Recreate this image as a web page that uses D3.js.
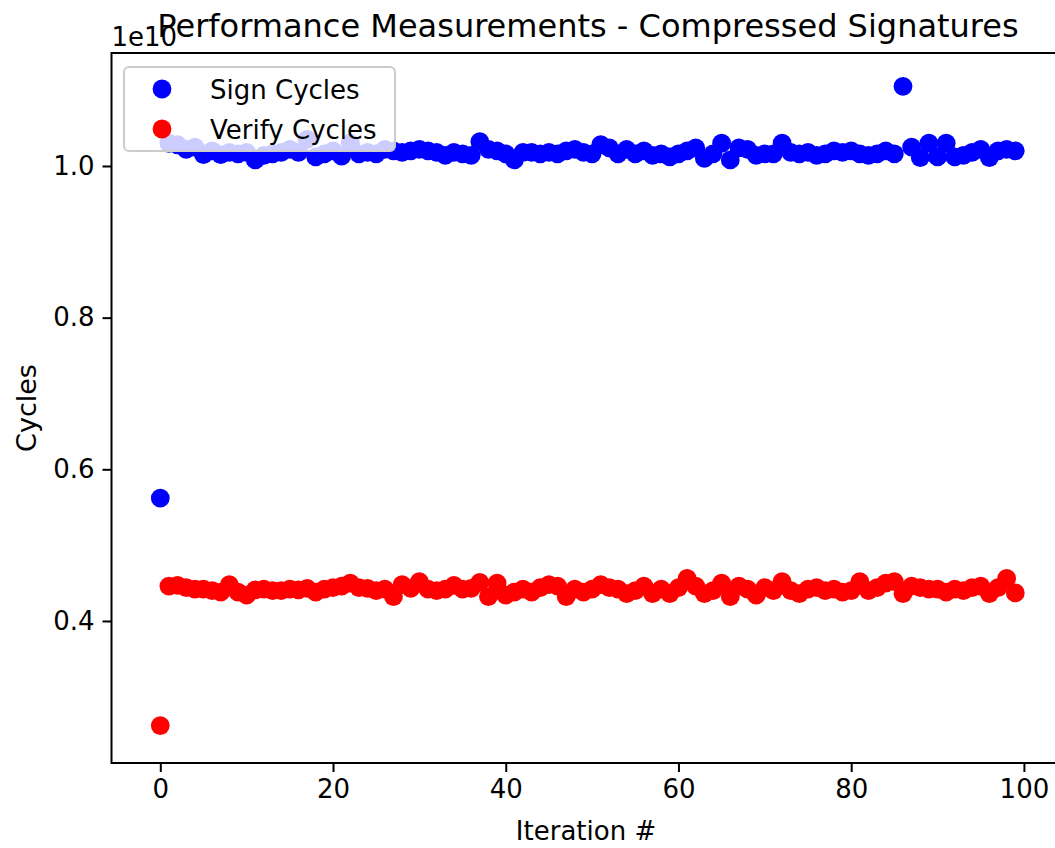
<!DOCTYPE html>
<html>
<head>
<meta charset="utf-8">
<script src="https://cdn.jsdelivr.net/npm/d3@7"></script>
<style>
  html, body { margin: 0; padding: 0; background: #fff; }
  svg { display: block; font-family: "DejaVu Sans", sans-serif; }
</style>
</head>
<body>
<svg id="chart" width="1055" height="848"></svg>
<script>
const title = "Performance Measurements - Compressed Signatures";
const xLabel = "Iteration #";
const yLabel = "Cycles";
const offsetLabel = "1e10";
const seriesNames = ["Sign Cycles", "Verify Cycles"];
const seriesColors = ["#0000ff", "#ff0000"];
const xTicks = [0, 20, 40, 60, 80, 100];
const yTicks = [0.4, 0.6, 0.8, 1.0];

// values in units of 1e10 cycles, iterations 0..99
const signCycles = [
  0.562, 1.030, 1.028, 1.022, 1.025, 1.015, 1.020, 1.015, 1.018, 1.016,
  1.018, 1.008, 1.014, 1.016, 1.018, 1.022, 1.018, 1.035, 1.012, 1.016,
  1.020, 1.013, 1.030, 1.016, 1.018, 1.016, 1.022, 1.020, 1.018, 1.020,
  1.022, 1.020, 1.018, 1.014, 1.018, 1.016, 1.014, 1.032, 1.022, 1.020,
  1.016, 1.008, 1.018, 1.018, 1.016, 1.018, 1.016, 1.020, 1.022, 1.018,
  1.016, 1.028, 1.024, 1.016, 1.022, 1.016, 1.020, 1.014, 1.016, 1.012,
  1.016, 1.020, 1.024, 1.010, 1.016, 1.030, 1.008, 1.024, 1.022, 1.014,
  1.016, 1.016, 1.030, 1.018, 1.016, 1.018, 1.014, 1.016, 1.020, 1.018,
  1.020, 1.016, 1.014, 1.016, 1.020, 1.016, 1.105, 1.025, 1.011, 1.030,
  1.012, 1.030, 1.012, 1.014, 1.018, 1.022, 1.011, 1.020, 1.022, 1.020
];
const verifyCycles = [
  0.262, 0.446, 0.447, 0.444, 0.442, 0.442, 0.440, 0.438, 0.448, 0.438,
  0.434, 0.441, 0.442, 0.440, 0.440, 0.442, 0.441, 0.443, 0.438, 0.442,
  0.444, 0.446, 0.450, 0.444, 0.443, 0.440, 0.442, 0.432, 0.448, 0.443,
  0.452, 0.442, 0.440, 0.442, 0.447, 0.442, 0.443, 0.451, 0.432, 0.450,
  0.434, 0.438, 0.442, 0.438, 0.444, 0.448, 0.446, 0.432, 0.442, 0.438,
  0.442, 0.448, 0.444, 0.442, 0.436, 0.440, 0.446, 0.436, 0.442, 0.436,
  0.444, 0.456, 0.446, 0.436, 0.440, 0.450, 0.432, 0.446, 0.442, 0.434,
  0.444, 0.440, 0.452, 0.440, 0.436, 0.442, 0.444, 0.440, 0.442, 0.438,
  0.440, 0.452, 0.440, 0.444, 0.450, 0.452, 0.436, 0.446, 0.444, 0.442,
  0.442, 0.438, 0.442, 0.440, 0.444, 0.446, 0.436, 0.444, 0.456, 0.437
];

const svg = d3.select("#chart");
const plot = { left: 111.5, right: 1064.5, top: 53, bottom: 763 };

const x = d3.scaleLinear().domain([-5.65, 104.7]).range([plot.left, plot.right]);
const y = d3.scaleLinear().domain([0.2127, 1.149]).range([plot.bottom, plot.top]);

const fontSize = 26;

// points
const series = [signCycles, verifyCycles];
series.forEach((vals, si) => {
  svg.append("g").selectAll("circle")
    .data(vals)
    .join("circle")
    .attr("cx", (d, i) => x(i))
    .attr("cy", d => y(d))
    .attr("r", 9.4)
    .attr("fill", seriesColors[si]);
});

// axes
const xAxis = d3.axisBottom(x).tickValues(xTicks).tickFormat(d3.format("d")).tickSizeOuter(0).tickSize(9).tickPadding(8);
const yAxis = d3.axisLeft(y).tickValues(yTicks).tickFormat(d3.format(".1f")).tickSizeOuter(0).tickSize(9).tickPadding(8);

const gx = svg.append("g").attr("transform", `translate(0,${plot.bottom})`).call(xAxis);
const gy = svg.append("g").attr("transform", `translate(${plot.left},0)`).call(yAxis);
[gx, gy].forEach(g => {
  g.select(".domain").remove();
  g.selectAll(".tick line").attr("stroke", "#000").attr("stroke-width", 2);
  g.selectAll(".tick text").attr("fill", "#000").style("font-size", fontSize + "px").style("font-family", "DejaVu Sans");
});

// spines
svg.append("rect")
  .attr("x", plot.left).attr("y", plot.top)
  .attr("width", plot.right - plot.left).attr("height", plot.bottom - plot.top)
  .attr("fill", "none").attr("stroke", "#000").attr("stroke-width", 2);

// labels
svg.append("text").attr("x", 588).attr("y", 37).attr("text-anchor", "middle")
  .style("font-size", "32px").text(title);
svg.append("text").attr("x", 586).attr("y", 840).attr("text-anchor", "middle")
  .style("font-size", fontSize + "px").text(xLabel);
svg.append("text").attr("transform", `translate(36,${(plot.top + plot.bottom) / 2}) rotate(-90)`)
  .attr("text-anchor", "middle").style("font-size", "27px").text(yLabel);
svg.append("text").attr("x", plot.left).attr("y", 46)
  .style("font-size", fontSize + "px").text(offsetLabel);

// legend
const lg = svg.append("g");
lg.append("rect").attr("x", 124).attr("y", 67).attr("width", 271).attr("height", 84).attr("rx", 5)
  .attr("fill", "#fff").attr("fill-opacity", 0.8).attr("stroke", "#cccccc").attr("stroke-width", 2);
seriesNames.forEach((name, i) => {
  const cy = 89 + i * 40;
  lg.append("circle").attr("cx", 162).attr("cy", cy).attr("r", 9.4).attr("fill", seriesColors[i]);
  lg.append("text").attr("x", 210).attr("y", cy + 9.5).style("font-size", fontSize + "px").text(name);
});
</script>
</body>
</html>
